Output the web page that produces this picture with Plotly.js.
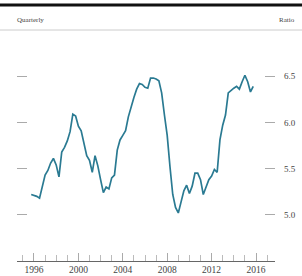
<!DOCTYPE html>
<html><head><meta charset="utf-8">
<script src="https://cdn.plot.ly/plotly-3.0.1.min.js"></script>
<style>html,body{margin:0;padding:0;background:#fff}#c{width:302px;height:276px}</style>
</head><body><div id="c"></div>
<script>
var quarters = [];
for (var q = 0; q < 81; q++) quarters.push(1995.75 + q * 0.25);
var ratio = [
 5.22,5.21,5.20,5.18,5.32,5.43,5.48,5.56,5.61,5.54,
 5.41,5.68,5.73,5.80,5.90,6.09,6.07,5.96,5.91,5.79,
 5.64,5.59,5.46,5.64,5.53,5.38,5.24,5.30,5.28,5.40,
 5.43,5.70,5.81,5.86,5.91,6.06,6.18,6.27,6.36,6.42,
 6.41,6.38,6.37,6.48,6.48,6.47,6.45,6.32,6.08,5.86,
 5.52,5.22,5.08,5.02,5.14,5.26,5.32,5.23,5.31,5.45,
 5.45,5.38,5.22,5.31,5.38,5.42,5.49,5.46,5.81,5.97,
 6.08,6.32,6.35,6.37,6.39,6.36,6.44,6.51,6.44,6.33,
 6.39
];
var xTickVals = [1996, 2000, 2004, 2008, 2012, 2016];
var xTickText = ['1996', '2000', '2004', '2008', '2012', '2016'];
var yTickVals = [5.0, 5.5, 6.0, 6.5];
var yTickText = ['5.0', '5.5', '6.0', '6.5'];

var serif = 'Liberation Serif, Times New Roman, serif';
var trace = {
  x: quarters.slice(0, ratio.length), y: ratio, type: 'scatter', mode: 'lines',
  line: {color: '#2a7a92', width: 1.7}, hoverinfo: 'skip'
};
var layout = {
  width: 302, height: 276,
  margin: {l: 17, r: 27, t: 30, b: 15, pad: 0},
  paper_bgcolor: '#fff', plot_bgcolor: '#fff',
  showlegend: false,
  xaxis: {
    range: [1994.47, 2017.71], showgrid: false, zeroline: false,
    showline: true, linecolor: '#666', linewidth: 1,
    tickvals: xTickVals, ticktext: xTickText,
    ticks: 'inside', ticklen: 8, tickcolor: '#aaa', tickwidth: 1,
    minor: {dtick: 1, tick0: 1996, ticks: 'inside', ticklen: 6, tickcolor: '#bbb', showgrid: false},
    tickfont: {family: serif, size: 9.5, color: '#444'}
  },
  yaxis: {
    range: [4.5, 7.0], side: 'right', showgrid: false, zeroline: false, showline: false,
    tickvals: yTickVals, ticktext: yTickText,
    ticks: 'inside', ticklen: 10, tickcolor: '#aaa', tickwidth: 1, mirror: 'ticks',
    ticklabelstandoff: 8,
    tickfont: {family: serif, size: 9, color: '#444'}
  },
  shapes: [
    {type: 'line', xref: 'paper', yref: 'paper', x0: -17/258, x1: 1 + 27/258, y0: 1.108, y1: 1.108,
     line: {color: '#111', width: 3}},
    {type: 'line', xref: 'paper', yref: 'paper', x0: -17/258, x1: 1 + 27/258, y0: 1, y1: 1,
     line: {color: '#ccc', width: 1}}
  ],
  annotations: [
    {text: 'Quarterly', xref: 'paper', yref: 'paper', x: -2/258, y: 1.043, xanchor: 'left', yanchor: 'middle',
     showarrow: false, font: {family: serif, size: 7, color: '#444'}},
    {text: 'Ratio', xref: 'paper', yref: 'paper', x: 1 + 22/258, y: 1.043, xanchor: 'right', yanchor: 'middle',
     showarrow: false, font: {family: serif, size: 7, color: '#444'}}
  ]
};
Plotly.newPlot('c', [trace], layout, {staticPlot: true, displayModeBar: false});
</script></body></html>
